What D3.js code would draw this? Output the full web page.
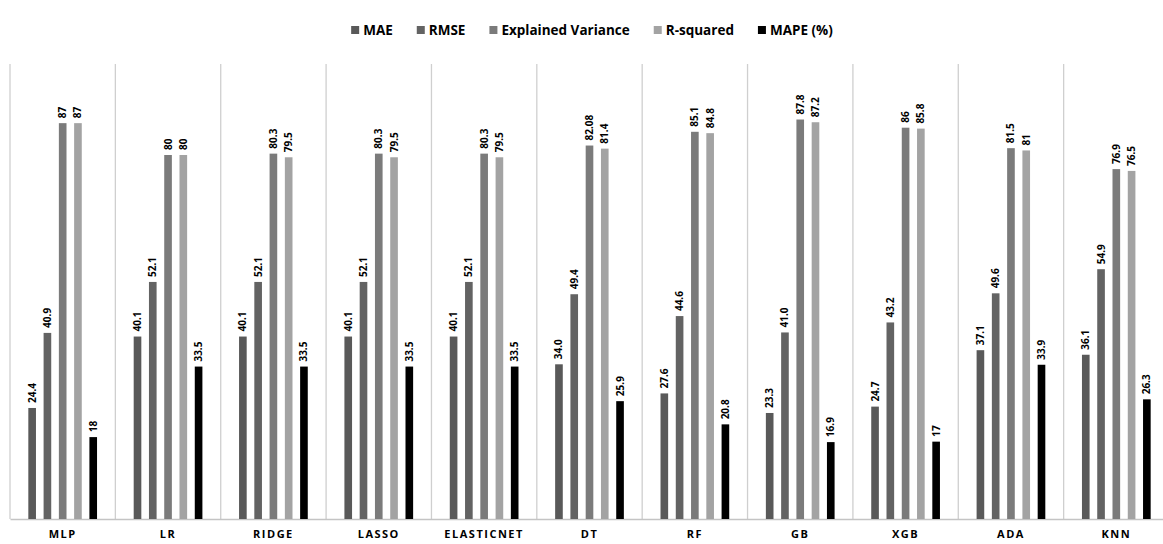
<!DOCTYPE html>
<html>
<head>
<meta charset="utf-8">
<script src="https://cdn.jsdelivr.net/npm/d3@7"></script>
<style>
  body { margin: 0; background: #fff; }
  text { font-family: "Open Sans", sans-serif; font-weight: bold; fill: #000; }
</style>
</head>
<body>
<div id="chart"></div>
<script>
var models = ["MLP", "LR", "RIDGE", "LASSO", "ELASTICNET", "DT", "RF", "GB", "XGB", "ADA", "KNN"];
var seriesNames = ["MAE", "RMSE", "Explained Variance", "R-squared", "MAPE (%)"];
// labels kept as printed on the chart (34.0, 41.0, 82.08 ...)
var mae      = ["24.4", "40.1", "40.1", "40.1", "40.1", "34.0", "27.6", "23.3", "24.7", "37.1", "36.1"];
var rmse     = ["40.9", "52.1", "52.1", "52.1", "52.1", "49.4", "44.6", "41.0", "43.2", "49.6", "54.9"];
var explVar  = ["87", "80", "80.3", "80.3", "80.3", "82.08", "85.1", "87.8", "86", "81.5", "76.9"];
var rSquared = ["87", "80", "79.5", "79.5", "79.5", "81.4", "84.8", "87.2", "85.8", "81", "76.5"];
var mape     = ["18", "33.5", "33.5", "33.5", "33.5", "25.9", "20.8", "16.9", "17", "33.9", "26.3"];
var colors = ["#595959", "#636363", "#7b7b7b", "#a3a3a3", "#000000"];

var series = [mae, rmse, explVar, rSquared, mape];

var width = 1163, height = 544;
var margin = {top: 64, right: -6, bottom: 25, left: 10};
var innerW = width - margin.left - margin.right,
    innerH = height - margin.top - margin.bottom;

var svg = d3.select("#chart")
    .append("svg")
        .attr("width", width)
        .attr("height", height)
    .append("g")
        .attr("transform", "translate(" + margin.left + "," + margin.top + ")");

var x0 = d3.scaleBand()
    .domain(models)
    .range([0, innerW])
    .padding(0);

var x1 = d3.scaleBand()
    .domain(seriesNames)
    .range([0, x0.bandwidth()])
    .paddingInner(0.5)
    .paddingOuter(1.2);

var y = d3.scaleLinear()
    .domain([0, 100])
    .range([innerH, 0]);

// group separators
svg.selectAll(".sep")
    .data(models.concat(["end"]))
    .enter().append("line")
        .attr("x1", function(d, i) { return i * x0.step(); })
        .attr("x2", function(d, i) { return i * x0.step(); })
        .attr("y1", 0)
        .attr("y2", innerH)
        .attr("stroke", "#cfcfcf")
        .attr("stroke-width", 1.3);

// baseline + category labels
var xAxis = svg.append("g")
    .attr("transform", "translate(0," + innerH + ")")
    .call(d3.axisBottom(x0).tickSize(0).tickPadding(11));
xAxis.select(".domain").attr("stroke", "#c4c4c4").attr("stroke-width", 1.3);
xAxis.selectAll("text")
    .style("font-family", "'Open Sans', sans-serif")
    .style("font-weight", "bold")
    .style("font-size", "11px")
    .style("letter-spacing", "1.5px")
    .attr("fill", "#000");

var rows = [];
models.forEach(function(m, i) {
    seriesNames.forEach(function(s, j) {
        rows.push({model: m, key: s, idx: j, label: series[j][i], value: +series[j][i]});
    });
});

var groups = svg.selectAll(".grp")
    .data(rows)
    .enter().append("g")
        .attr("transform", function(d) { return "translate(" + (x0(d.model) + x1(d.key)) + ",0)"; });

groups.append("rect")
    .attr("x", 0)
    .attr("y", function(d) { return y(d.value); })
    .attr("width", x1.bandwidth())
    .attr("height", function(d) { return innerH - y(d.value); })
    .attr("fill", function(d) { return colors[d.idx]; });

groups.append("text")
    .attr("transform", function(d) {
        return "translate(" + (x1.bandwidth() / 2 + 3.5) + "," + (y(d.value) - 5) + ") rotate(-90)";
    })
    .style("font-size", "10px")
    .text(function(d) { return d.label; });

// legend
var legend = d3.select("svg").append("g")
    .attr("transform", "translate(0,30)");
var lx = 0;
seriesNames.forEach(function(s, j) {
    var item = legend.append("g").attr("transform", "translate(" + lx + ",0)");
    item.append("rect")
        .attr("x", 0).attr("y", -4)
        .attr("width", 8).attr("height", 8)
        .attr("fill", colors[j]);
    var t = item.append("text")
        .attr("x", 12).attr("y", 5)
        .style("font-size", "13.5px")
        .text(s);
    lx += 12 + t.node().getComputedTextLength() + 24;
});
lx -= 24;
legend.attr("transform", "translate(" + (592 - lx / 2) + ",30)");
</script>
</body>
</html>
